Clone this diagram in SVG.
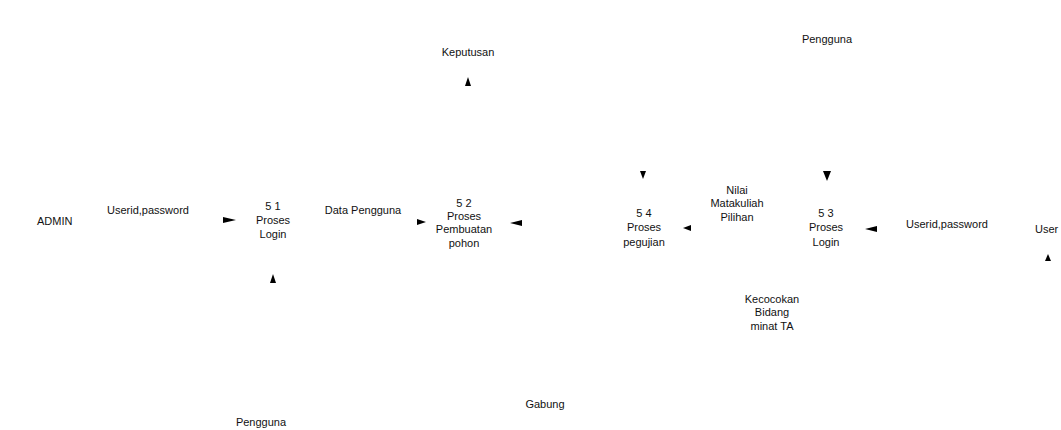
<svg xmlns="http://www.w3.org/2000/svg" width="1061" height="430" viewBox="0 0 1061 430">
<style>
text{font-family:"Liberation Sans",Arial,sans-serif;font-size:11px;fill:#111;text-anchor:middle}
.l{text-anchor:start}
.ah{fill:#000}
</style>
<rect width="1061" height="430" fill="#fff"/>
<g id="admin"><text class="l" x="37" y="225">ADMIN</text></g>
<g id="p51"><text x="273" y="210">5 1</text><text x="273" y="224">Proses</text><text x="273" y="238">Login</text></g>
<g id="pengguna1"><text x="261" y="426">Pengguna</text></g>
<g id="p52"><text x="464" y="207">5 2</text><text x="464" y="220">Proses</text><text x="464" y="233">Pembuatan</text><text x="464" y="247">pohon</text></g>
<g id="keputusan"><text x="468" y="56">Keputusan</text></g>
<g id="gabung"><text x="545" y="408">Gabung</text></g>
<g id="p54"><text x="644" y="217">5 4</text><text x="644" y="231">Proses</text><text x="644" y="246">pegujian</text></g>
<g id="p53"><text x="826" y="217">5 3</text><text x="826" y="231">Proses</text><text x="826" y="246">Login</text></g>
<g id="pengguna2"><text x="827" y="43">Pengguna</text></g>
<g id="user"><text class="l" x="1035" y="233">User</text></g>
<g id="connectors">
<text x="148" y="214">Userid,password</text>
<text x="363" y="214">Data Pengguna</text>
<text x="737" y="194">Nilai</text><text x="737" y="207">Matakuliah</text><text x="737" y="221">Pilihan</text>
<text x="947" y="228">Userid,password</text>
<text x="772" y="303">Kecocokan</text><text x="772" y="316">Bidang</text><text x="772" y="330">minat TA</text>
<polygon class="ah" points="223,217 236,220 223,223"/>
<polygon class="ah" points="270,283 273,274 276,283"/>
<polygon class="ah" points="417,219 426,222 417,225"/>
<polygon class="ah" points="522,220 510,223 522,226"/>
<polygon class="ah" points="465,86 468,77 471,86"/>
<polygon class="ah" points="640,171 643,179 646,171"/>
<polygon class="ah" points="691,225 683,228 691,231"/>
<polygon class="ah" points="823,171 827,181 831,171"/>
<polygon class="ah" points="877,226 865,229 877,232"/>
<polygon class="ah" points="1045,261 1048,254 1051,261"/>
</g>
</svg>
